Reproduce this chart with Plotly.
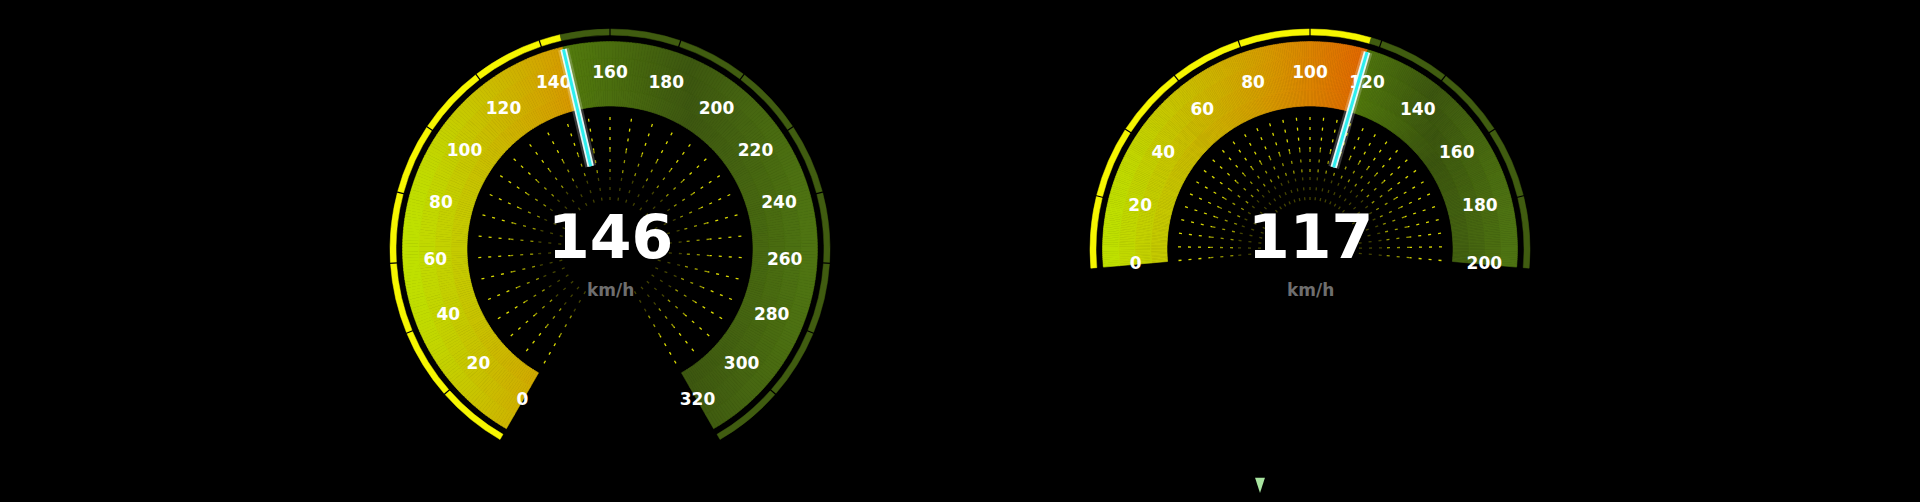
import numpy as np
import plotly.graph_objects as go

W, H = 1920, 502

# ---- data ----
left_value = 146
left_max = 320
left_ticks = [0, 20, 40, 60, 80, 100, 120, 140, 160, 180, 200, 220, 240, 260, 280, 300, 320]
right_value = 117
right_max = 200
right_ticks = [0, 20, 40, 60, 80, 100, 120, 140, 160, 180, 200]
unit_label = "km/h"

# gauge geometry (pixels / degrees)
gauges = [
    dict(value=left_value, vmax=left_max, ticks=left_ticks, cx=610, cy=249, start=240, sweep=300, name="polar"),
    dict(value=right_value, vmax=right_max, ticks=right_ticks, cx=1310, cy=249, start=185, sweep=190, name="polar2"),
]

R_AX = 225
R_IN, R_OUT = 143, 207
RING_IN, RING_W = 214, 6
R_LABEL = 175
FONT = "DejaVu Sans"

value_stops = [(0.0, (190, 228, 0)), (0.4, (214, 154, 0)), (0.65, (226, 100, 0)), (1.0, (232, 50, 0))]
green_stops = [(0.0, (84, 124, 14)), (0.5, (61, 87, 16)), (1.0, (80, 118, 18))]


def mix(stops, t):
    t = min(max(t, 0.0), 1.0)
    for (p0, c0), (p1, c1) in zip(stops[:-1], stops[1:]):
        if t <= p1:
            f = (t - p0) / (p1 - p0) if p1 > p0 else 0
            c = [round(a + (b - a) * f) for a, b in zip(c0, c1)]
            return f"rgb({c[0]},{c[1]},{c[2]})"
    c = stops[-1][1]
    return f"rgb({c[0]},{c[1]},{c[2]})"


def to_theta(g, v):
    return v * g["sweep"] / g["vmax"]


def screen_x(g, v, r):
    ang = np.radians(g["start"] - to_theta(g, v))
    return g["cx"] + r * np.cos(ang)


fig = go.Figure()

for g in gauges:
    sub = g["name"]
    val, vmax = g["value"], g["vmax"]

    # coloured band, sliced for the horizontal gradient
    edges = sorted(set(np.linspace(0, vmax, 361).tolist()) | {val})
    n_r = 4
    rstep = (R_OUT - R_IN) / n_r
    x_lo, x_hi = g["cx"] - R_OUT, g["cx"] + R_OUT
    gx = [screen_x(g, v, r) for v in np.linspace(val, vmax, 200) for r in (R_IN, R_OUT)]
    gx_lo = min(gx)
    th, base, rr, wd, col = [], [], [], [], []
    for a, b in zip(edges[:-1], edges[1:]):
        vm = (a + b) / 2
        for k in range(n_r):
            r0 = R_IN + k * rstep
            x = screen_x(g, vm, r0 + rstep / 2)
            if vm < val:
                c = mix(value_stops, (x - x_lo) / (x_hi - x_lo))
            else:
                c = mix(green_stops, (x - gx_lo) / (x_hi - gx_lo))
            th.append(to_theta(g, vm))
            wd.append(to_theta(g, b - a) * 1.05)
            base.append(r0)
            rr.append(rstep + 0.4)
            col.append(c)
    fig.add_trace(go.Barpolar(
        theta=th, r=rr, base=base, width=wd, subplot=sub,
        marker=dict(color=col, line=dict(color=col, width=0.6)),
        hoverinfo="skip"
    ))

    # outer ring
    redges = sorted(set(g["ticks"]) | {val})
    th, wd, col = [], [], []
    for a, b in zip(redges[:-1], redges[1:]):
        th.append(to_theta(g, (a + b) / 2))
        wd.append(to_theta(g, b - a))
        col.append("#f6f600" if b <= val else "#405c10")
    fig.add_trace(go.Barpolar(
        theta=th, r=[RING_W] * len(th), base=[RING_IN] * len(th), width=wd, subplot=sub,
        marker=dict(color=col, line=dict(color=col, width=0.5)),
        hoverinfo="skip"
    ))
    # ring separators
    sr, st = [], []
    for t in g["ticks"][1:-1]:
        sr += [RING_IN - 1, RING_IN + RING_W + 1, None]
        st += [to_theta(g, t)] * 2 + [None]
    fig.add_trace(go.Scatterpolar(
        r=sr, theta=st, mode="lines", subplot=sub,
        line=dict(color="black", width=1.2), hoverinfo="skip"
    ))

    # inner dashed radial lines, fading to the centre
    spokes = [i * vmax / 32 for i in range(33)]
    for r0, r1, c in [(132, 100, "#dada00"), (100, 72, "#989800"), (72, 46, "#444400")]:
        dr, dt = [], []
        for s in spokes:
            dr += [r0, r1, None]
            dt += [to_theta(g, s)] * 2 + [None]
        fig.add_trace(go.Scatterpolar(
            r=dr, theta=dt, mode="lines", subplot=sub,
            line=dict(color=c, width=1.3, dash="3px,7px"), hoverinfo="skip"
        ))

    # tick labels
    fig.add_trace(go.Scatterpolar(
        r=[R_LABEL] * len(g["ticks"]), theta=[to_theta(g, t) for t in g["ticks"]],
        text=[str(t) for t in g["ticks"]], mode="text", subplot=sub,
        textfont=dict(family=FONT, size=17, color="white", weight="bold"),
        hoverinfo="skip"
    ))

    # needle
    nt = to_theta(g, val)
    for w, c in [(11, "rgba(255,255,255,0.22)"), (6.5, "rgba(235,255,255,0.95)"), (3, "#2eeeee")]:
        fig.add_trace(go.Scatterpolar(
            r=[85, 205], theta=[nt, nt], mode="lines", subplot=sub,
            line=dict(color=c, width=w), hoverinfo="skip"
        ))

    # centre readout
    fig.add_annotation(
        x=g["cx"] / W, y=(H - g["cy"] + 12) / H, xref="paper", yref="paper",
        text=str(val), showarrow=False, xanchor="center", yanchor="middle",
        font=dict(family=FONT, size=60, color="white", weight="bold")
    )
    fig.add_annotation(
        x=g["cx"] / W, y=(H - g["cy"] - 41) / H, xref="paper", yref="paper",
        text=unit_label, showarrow=False, xanchor="center", yanchor="middle",
        font=dict(family=FONT, size=17, color="#6e6e6e", weight="bold")
    )

# small scroll arrow at the bottom
fig.add_trace(go.Scatter(
    x=[1260], y=[H - 493], mode="markers",
    marker=dict(symbol="arrow", angle=180, size=16, color="#a8e4a0"),
    hoverinfo="skip", xaxis="x", yaxis="y"
))

polar_style = dict(
    bgcolor="black", hole=0,
    radialaxis=dict(visible=False, range=[0, R_AX]),
)
for g in gauges:
    polar_style_g = dict(polar_style)
    polar_style_g["domain"] = dict(
        x=[(g["cx"] - R_AX) / W, (g["cx"] + R_AX) / W],
        y=[(H - g["cy"] - R_AX) / H, (H - g["cy"] + R_AX) / H],
    )
    polar_style_g["angularaxis"] = dict(
        visible=False, rotation=g["start"], direction="clockwise", thetaunit="degrees"
    )
    polar_style_g["barmode"] = "overlay"
    fig.update_layout({g["name"]: polar_style_g})

fig.update_layout(
    width=W, height=H,
    paper_bgcolor="black", plot_bgcolor="black",
    margin=dict(l=0, r=0, t=0, b=0),
    showlegend=False,
    xaxis=dict(visible=False, range=[0, W], fixedrange=True),
    yaxis=dict(visible=False, range=[0, H], fixedrange=True),
)

fig.write_html(
    "out.html",
    config={"displayModeBar": False},
    post_script="document.body.style.margin='0';document.body.style.background='black';",
)
